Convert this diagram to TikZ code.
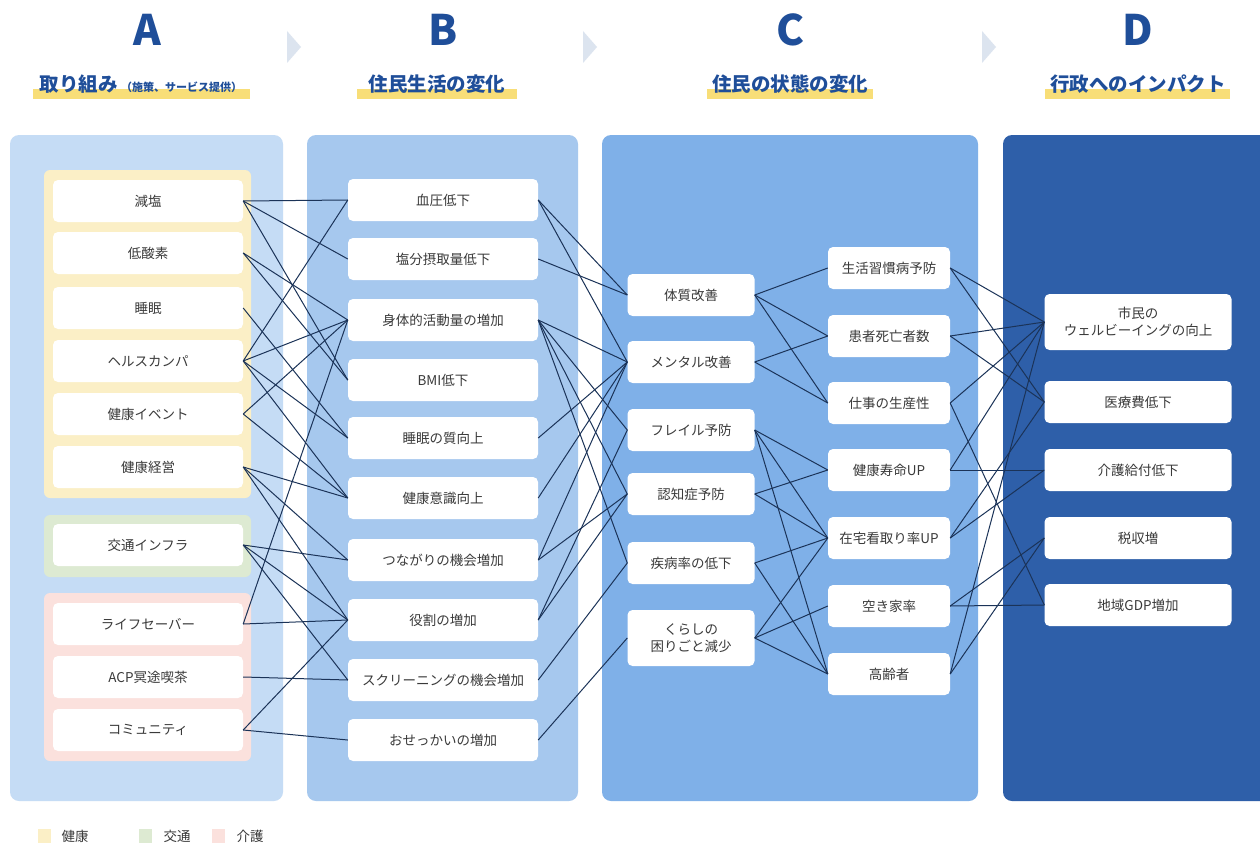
\documentclass[tikz,border=0pt]{standalone}
\usepackage{fontspec}
\setmainfont{Noto Sans CJK JP}
\usetikzlibrary{positioning}
\definecolor{panA}{HTML}{C5DCF5}
\definecolor{panB}{HTML}{A6C8EE}
\definecolor{panC}{HTML}{7FB0E8}
\definecolor{panD}{HTML}{2E5FA9}
\definecolor{hdr}{HTML}{1F4E99}
\definecolor{hl}{HTML}{F8DE78}
\definecolor{chev}{HTML}{DCE4EF}
\definecolor{gY}{HTML}{FBEFC6}
\definecolor{gG}{HTML}{DDEAD2}
\definecolor{gP}{HTML}{FBE1DD}
\definecolor{txt}{HTML}{3A3A3A}
\definecolor{lnk}{HTML}{1B3358}
\begin{document}
\begin{tikzpicture}[x=1pt,y=-1pt,
  panel/.style={rounded corners=9pt, draw=none},
  box/.style={fill=white, rounded corners=5pt, inner sep=0pt, minimum height=42pt, text=txt, align=center, font=\fontsize{13.5}{17}\selectfont},
  abox/.style={box, minimum width=190pt},
  bbox/.style={box, minimum width=190pt},
  cbox/.style={box, minimum width=127pt},
  dbox/.style={box, minimum width=122pt},
  ebox/.style={box, minimum width=187pt},
  letter/.style={text=hdr, font=\fontsize{42}{46}\selectfont\bfseries},
  sub/.style={text=hdr, font=\fontsize{19.5}{22}\selectfont\bfseries, inner sep=1pt},
  link/.style={draw=lnk, line width=1pt},
  chevron/.style={fill=chev, draw=none},
  legtext/.style={anchor=west, text=txt, font=\fontsize{13.5}{15}\selectfont}
]
\useasboundingbox (0,0) rectangle (1260,848);
\fill[white] (0,0) rectangle (1260,848);
% headers
\node[letter] (LA) at (147,30) {A};
\node[letter] (LB) at (443,30) {B};
\node[letter] (LC) at (790,30) {C};
\node[letter] (LD) at (1138,30) {D};
\fill[hl] (33,89) rectangle (250,99);
\fill[hl] (357,89) rectangle (517,99);
\fill[hl] (707,89) rectangle (873,99);
\fill[hl] (1045,89) rectangle (1230,99);
\node[sub] (SA) at (141,84) {取り組み\,{\fontsize{11}{12}\selectfont（施策、サービス提供）}};
\node[sub] (SB) at (437,84) {住民生活の変化};
\node[sub] (SC) at (790,84) {住民の状態の変化};
\node[sub] (SD) at (1138,84) {行政へのインパクト};
\fill[chevron] (287,31) -- (301,47) -- (287,63) -- cycle;
\fill[chevron] (583,31) -- (597,47) -- (583,63) -- cycle;
\fill[chevron] (982,31) -- (996,47) -- (982,63) -- cycle;
% panels
\fill[panel, fill=panA] (10,135) rectangle (283,801);
\fill[panel, fill=panB] (307,135) rectangle (578,801);
\fill[panel, fill=panC] (602,135) rectangle (978,801);
\fill[panel, fill=panD] (1003,135) rectangle (1272,801);
% groups in A
\fill[gY, rounded corners=6pt] (44,170) rectangle (251,498);
\fill[gG, rounded corners=6pt] (44,515) rectangle (251,577);
\fill[gP, rounded corners=6pt] (44,593) rectangle (251,761);
% column A
\node[abox] (a1) at (148,201) {減塩};
\node[abox] (a2) at (148,253) {低酸素};
\node[abox] (a3) at (148,308) {睡眠};
\node[abox] (a4) at (148,361) {ヘルスカンパ};
\node[abox] (a5) at (148,414) {健康イベント};
\node[abox] (a6) at (148,467) {健康経営};
\node[abox] (a7) at (148,545) {交通インフラ};
\node[abox] (a8) at (148,624) {ライフセーバー};
\node[abox] (a9) at (148,677) {ACP冥途喫茶};
\node[abox] (a10) at (148,730) {コミュニティ};
% column B
\node[bbox] (b1) at (443,200) {血圧低下};
\node[bbox] (b2) at (443,259) {塩分摂取量低下};
\node[bbox] (b3) at (443,320) {身体的活動量の増加};
\node[bbox] (b4) at (443,380) {BMI低下};
\node[bbox] (b5) at (443,438) {睡眠の質向上};
\node[bbox] (b6) at (443,498) {健康意識向上};
\node[bbox] (b7) at (443,560) {つながりの機会増加};
\node[bbox] (b8) at (443,620) {役割の増加};
\node[bbox] (b9) at (443,680) {スクリーニングの機会増加};
\node[bbox] (b10) at (443,740) {おせっかいの増加};
% column C left
\node[cbox] (c1) at (691,295) {体質改善};
\node[cbox] (c2) at (691,362) {メンタル改善};
\node[cbox] (c3) at (691,430) {フレイル予防};
\node[cbox] (c4) at (691,494) {認知症予防};
\node[cbox] (c5) at (691,563) {疾病率の低下};
\node[cbox, minimum height=56pt] (c6) at (691,638) {くらしの\\困りごと減少};
% column C right
\node[dbox] (d1) at (889,268) {生活習慣病予防};
\node[dbox] (d2) at (889,336) {患者死亡者数};
\node[dbox] (d3) at (889,403) {仕事の生産性};
\node[dbox] (d4) at (889,470) {健康寿命UP};
\node[dbox] (d5) at (889,538) {在宅看取り率UP};
\node[dbox] (d6) at (889,606) {空き家率};
\node[dbox] (d7) at (889,674) {高齢者};
% column D
\node[ebox, minimum height=56pt] (e1) at (1138,322) {市民の\\ウェルビーイングの向上};
\node[ebox] (e2) at (1138,402) {医療費低下};
\node[ebox] (e3) at (1138,470) {介護給付低下};
\node[ebox] (e4) at (1138,538) {税収増};
\node[ebox] (e5) at (1138,605) {地域GDP増加};
% links A -> B
\foreach \s/\t in {a1/b1,a1/b2,a1/b4,a2/b3,a2/b4,a3/b5,a4/b1,a4/b3,a4/b5,a4/b6,a5/b3,a5/b6,a6/b6,a6/b7,a6/b8,a7/b7,a7/b8,a7/b9,a8/b3,a8/b8,a9/b9,a10/b8,a10/b10}
  \draw[link] (\s.east) -- (\t.west);
% links B -> C
\foreach \s/\t in {b1/c1,b1/c2,b2/c1,b3/c2,b3/c3,b3/c4,b3/c5,b5/c2,b6/c2,b7/c2,b7/c4,b8/c3,b8/c4,b9/c5,b10/c6}
  \draw[link] (\s.east) -- (\t.west);
% links C -> C
\foreach \s/\t in {c1/d1,c1/d2,c1/d3,c2/d2,c2/d3,c3/d4,c3/d5,c3/d7,c4/d4,c4/d5,c5/d5,c5/d7,c6/d5,c6/d6,c6/d7}
  \draw[link] (\s.east) -- (\t.west);
% links C -> D
\foreach \s/\t in {d1/e1,d1/e2,d2/e1,d2/e2,d3/e1,d3/e5,d4/e1,d4/e3,d5/e2,d5/e3,d6/e4,d6/e5,d7/e1,d7/e4}
  \draw[link] (\s.east) -- (\t.west);
% legend
\fill[gY] (38,829) rectangle (51,843);
\node[legtext] (lg1) at (58,836) {健康};
\fill[gG] (139,829) rectangle (152,843);
\node[legtext] (lg2) at (160,836) {交通};
\fill[gP] (212,829) rectangle (225,843);
\node[legtext] (lg3) at (233,836) {介護};
\end{tikzpicture}
\end{document}
